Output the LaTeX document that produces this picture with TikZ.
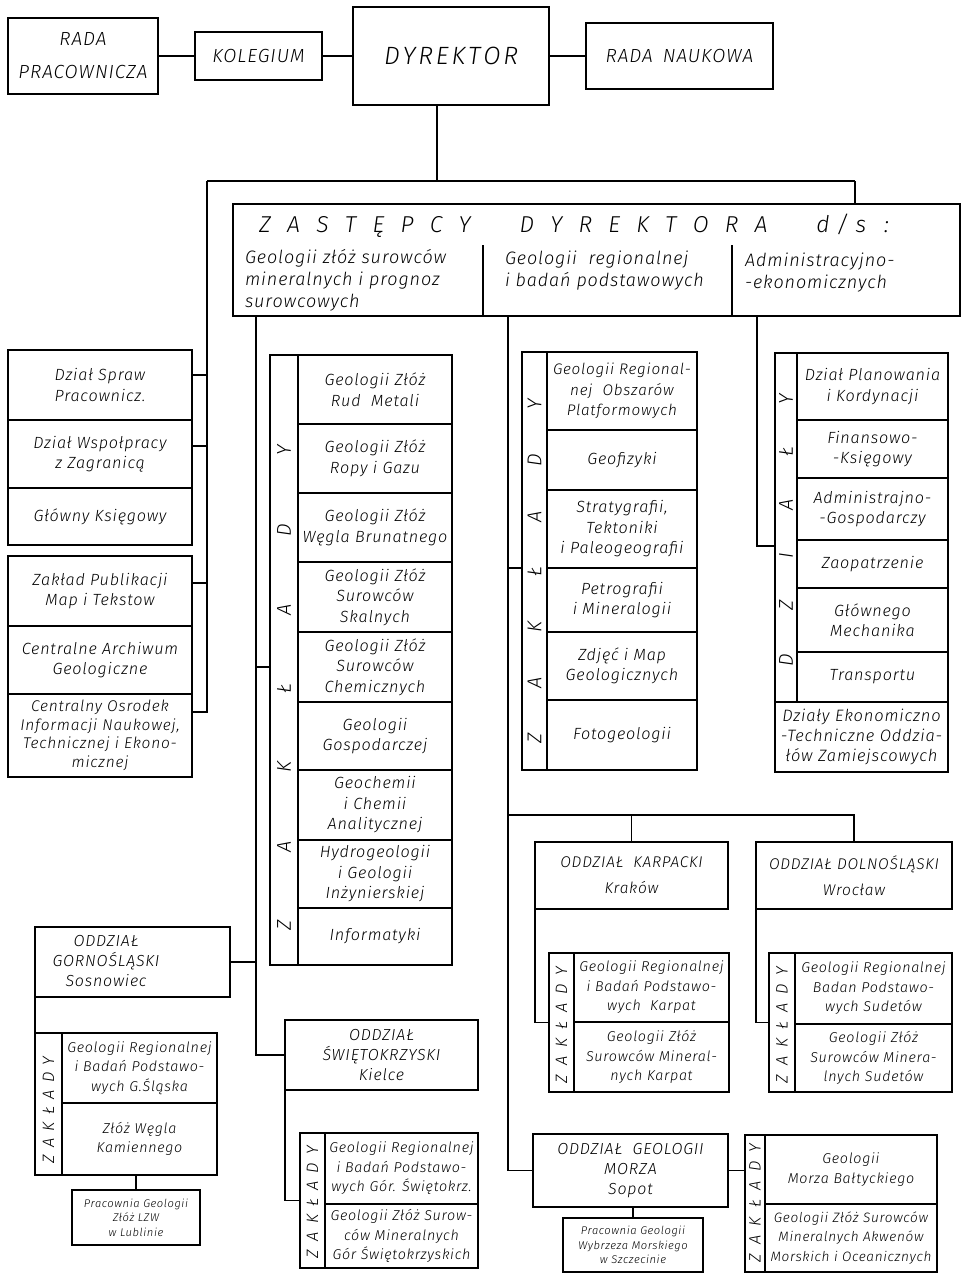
\documentclass[tikz,border=0pt]{standalone}
\usepackage{fontspec}
\setmainfont{Fira Sans Light Italic}[LetterSpace=5]
\usetikzlibrary{calc}
\newcommand\bodyf{\fontsize{16.2}{20.5}\selectfont}
\newcommand\zsf{\fontsize{18}{22}\selectfont}
\newcommand\smallf{\fontsize{14.3}{19.5}\selectfont}
\newcommand\tinyf{\fontsize{11.2}{14.5}\selectfont}
\newcommand\capf{\fontsize{19}{33}\selectfont}
\newcommand\oddf{\fontsize{16}{20}\selectfont}
\newcommand\dyrf{\fontsize{25}{25}\selectfont}
\newcommand\zasf{\fontsize{23}{23}\selectfont}
\newcommand\letf{\fontsize{20}{20}\selectfont}
\newcommand\letsf{\fontsize{16.5}{16.5}\selectfont}
\newcommand\mkbox[7][]{%
  \pgfmathsetmacro\bxw{#5-#3}%
  \pgfmathsetmacro\bxh{#6-#4}%
  \node[box,minimum width=\bxw pt,minimum height=\bxh pt,anchor=north west,#1] (#2) at (#3,#4) {#7};}
\begin{document}
\begin{tikzpicture}[x=1pt,y=-1pt,line width=1.1pt,
  box/.style={draw,inner sep=1pt,outer sep=0pt,align=center,font=\bodyf},
  lbl/.style={inner sep=0pt,outer sep=0pt,align=center,font=\bodyf},
  vlet/.style={inner sep=0pt,outer sep=0pt,rotate=90,font=\letf},
  vlets/.style={inner sep=0pt,outer sep=0pt,rotate=90,font=\letsf}]
\useasboundingbox (0,0) rectangle (968,1275);

% ---------- top row
\mkbox[font=\capf]{rp}{8}{18}{158}{94}{RADA\\PRACOWNICZA}
\mkbox[font=\capf]{kol}{195}{32}{322}{80}{KOLEGIUM}
\mkbox[font=\dyrf]{dyr}{353}{7}{549}{105}{\makebox[134pt]{D\hfill Y\hfill R\hfill E\hfill K\hfill T\hfill O\hfill R}}
\mkbox[font=\capf]{rn}{586}{23}{773}{89}{RADA\hspace{10pt}NAUKOWA}
\draw (rp) -- (kol);
\draw (kol) -- (dyr);
\draw (dyr) -- (rn);

\coordinate (tl) at (207,181);
\coordinate (tm) at (437,181);
\coordinate (tr) at (855,181);
\draw (dyr.south -| tm) -- (tm);
\draw (tl) -- (tr);

% ---------- deputies box
\mkbox{zas}{233}{204}{960}{316}{}
\draw (tr) -- (tr |- zas.north);
\node[lbl,font=\zasf] (zh) at (574,226) {\makebox[630pt]{Z\hfill A\hfill S\hfill T\hfill Ę\hfill P\hfill C\hfill Y\hfill\hfill\hfill D\hfill Y\hfill R\hfill E\hfill K\hfill T\hfill O\hfill R\hfill A\hfill\hfill\hfill d\hspace{7pt}/\hspace{7pt}s\hspace{18pt}:}};
\draw (483,245) -- (483,316);
\draw (732,245) -- (732,316);
\node[lbl,font=\zsf,anchor=west,align=left] (zs1) at (245,280) {Geologii złóż surowców\\mineralnych i prognoz\\surowcowych};
\node[lbl,font=\zsf,anchor=west,align=left] (zs2) at (505,271) {Geologii\ \ regionalnej\\i badań podstawowych};
\node[lbl,font=\zsf,anchor=west,align=left] (zs3) at (745,273) {Administracyjno-\\-ekonomicznych};
\coordinate (c1) at (256,316);
\coordinate (c2) at (508,316);
\coordinate (c3) at (757,316);

% ---------- left column
\mkbox{l1}{8}{350}{192}{420}{Dział Spraw\\Pracownicz.}
\mkbox{l2}{8}{420}{192}{488}{Dział Wspołpracy\\z Zagranicą}
\mkbox{l3}{8}{488}{192}{545}{Główny Księgowy}
\mkbox{l4}{8}{556}{192}{626}{Zakład Publikacji\\Map i Tekstow}
\mkbox{l5}{8}{626}{192}{694}{Centralne Archiwum\\Geologiczne}
\mkbox[font=\fontsize{15.5}{18.5}\selectfont]{l6}{8}{694}{192}{777}{Centralny Osrodek\\Informacji Naukowej,\\Technicznej i Ekono-\\micznej}
\coordinate (b1) at ($(l1.north east)+(0,25)$);
\coordinate (b2) at ($(l2.north east)+(0,26)$);
\coordinate (b4) at ($(l4.north east)+(0,27)$);
\coordinate (b6) at ($(l6.north east)+(0,18)$);
\draw (tl) |- (b6);
\draw (b1) -- (b1 -| tl);
\draw (b2) -- (b2 -| tl);
\draw (b4) -- (b4 -| tl);

% ---------- column 1 (Zaklady)
\mkbox{z1l}{270}{355}{298}{965}{}
\mkbox{z1a}{298}{355}{452}{424}{Geologii Złóż\\Rud\ \ Metali}
\mkbox{z1b}{298}{424}{452}{493}{Geologii Złóż\\Ropy i Gazu}
\mkbox{z1c}{298}{493}{452}{562}{Geologii Złóż\\Węgla Brunatnego}
\mkbox{z1d}{298}{562}{452}{632}{Geologii Złóż\\Surowców\\Skalnych}
\mkbox{z1e}{298}{632}{452}{702}{Geologii Złóż\\Surowców\\Chemicznych}
\mkbox{z1f}{298}{702}{452}{770}{Geologii\\Gospodarczej}
\mkbox{z1g}{298}{770}{452}{840}{Geochemii\\i Chemii\\Analitycznej}
\mkbox{z1h}{298}{840}{452}{908}{Hydrogeologii\\i Geologii\\Inżynierskiej}
\mkbox{z1i}{298}{908}{452}{965}{Informatyki}
\node[vlet] (z1t) at (284,688) {\makebox[485pt]{Z\hfill A\hfill K\hfill Ł\hfill A\hfill D\hfill Y}};

% ---------- column 2 (Zaklady)
\mkbox{z2l}{522}{352}{547}{770}{}
\mkbox[font=\fontsize{15.3}{20.5}\selectfont]{z2a}{547}{352}{697}{430}{Geologii Regional-\\nej\ \ Obszarów\\Platformowych}
\mkbox{z2b}{547}{430}{697}{490}{Geofizyki}
\mkbox{z2c}{547}{490}{697}{568}{Stratygrafii,\\Tektoniki\\i Paleogeografii}
\mkbox{z2d}{547}{568}{697}{632}{Petrografii\\i Mineralogii}
\mkbox{z2e}{547}{632}{697}{700}{Zdjęć i Map\\Geologicznych}
\mkbox{z2f}{547}{700}{697}{770}{Fotogeologii}
\node[vlet] (z2t) at (534.5,571) {\makebox[344pt]{Z\hfill A\hfill K\hfill Ł\hfill A\hfill D\hfill Y}};
\draw (c2 |- z2c.south) -- (z2l.west |- z2c.south);

% ---------- column 3 (Dzialy)
\mkbox{z3l}{775}{353}{797}{702}{}
\mkbox{z3a}{797}{353}{948}{420}{Dział Planowania\\i Kordynacji}
\mkbox{z3b}{797}{420}{948}{478}{Finansowo-\\-Księgowy}
\mkbox{z3c}{797}{478}{948}{540}{Administrajno-\\-Gospodarczy}
\mkbox{z3d}{797}{540}{948}{588}{Zaopatrzenie}
\mkbox{z3e}{797}{588}{948}{652}{Głównego\\Mechanika}
\mkbox{z3f}{797}{652}{948}{702}{Transportu}
\mkbox[font=\fontsize{16.5}{20}\selectfont]{z3g}{775}{702}{948}{772}{Działy Ekonomiczno\\-Techniczne Oddzia-\\łów Zamiejscowych}
\node[vlet] (z3t) at (786,530) {\makebox[272pt]{D\hfill Z\hfill I\hfill A\hfill Ł\hfill Y}};
\coordinate (b3) at ($(z3d.north -| z3l.west)+(0,6)$);
\draw (c3) |- (b3);

% ---------- Oddzial Gornoslaski
\mkbox{go}{35}{927}{230}{997}{}
\node[lbl,font=\oddf] (got) at (106,961) {ODDZIAŁ\\GORNOŚLĄSKI\\Sosnowiec};
\mkbox{gzl}{35}{1033}{62}{1175}{}
\mkbox[font=\smallf]{gza}{62}{1033}{217}{1103}{Geologii Regionalnej\\i Badań Podstawo-\\wych G.Śląska}
\mkbox[font=\smallf]{gzb}{62}{1103}{217}{1175}{Złóż Węgla\\Kamiennego}
\node[vlets] (gzt) at (48.5,1110) {\makebox[107pt]{Z\hfill A\hfill K\hfill Ł\hfill A\hfill D\hfill Y}};
\mkbox[font=\tinyf]{gp}{72}{1190}{200}{1245}{Pracownia Geologii\\Złóż LZW\\w Lublinie}
\draw (go.south west) -- (gzl.north west);
\draw (gp.north) -- (gp.north |- gzb.south);

% ---------- Oddzial Swietokrzyski
\mkbox[font=\oddf]{sw}{285}{1020}{478}{1090}{ODDZIAŁ\\ŚWIĘTOKRZYSKI\\Kielce}
\mkbox{szl}{300}{1133}{325}{1268}{}
\mkbox[font=\smallf]{sza}{325}{1133}{478}{1204}{Geologii Regionalnej\\i Badań Podstawo-\\wych Gór. Świętokrz.}
\mkbox[font=\smallf]{szb}{325}{1204}{478}{1268}{Geologii Złóż Surow-\\ców Mineralnych\\Gór Świętokrzyskich}
\node[vlets] (szt) at (312.5,1202) {\makebox[112pt]{Z\hfill A\hfill K\hfill Ł\hfill A\hfill D\hfill Y}};
\draw (sw.south west) |- (szl.west);

% column 1 trunk and branches
\draw (c1) |- (sw.west);
\draw (c1 |- z1e.west) -- (z1l.west |- z1e.west);
\draw (go.east) -- (go.east -| c1);

% ---------- Oddzial Karpacki / Dolnoslaski
\mkbox[font=\fontsize{15.5}{26}\selectfont]{ka}{535}{842}{728}{909}{ODDZIAŁ\ \ KARPACKI\\Kraków}
\mkbox[font=\fontsize{15.5}{26}\selectfont]{dl}{756}{842}{952}{909}{ODDZIAŁ DOLNOŚLĄSKI\\Wrocław}
\mkbox{kzl}{549}{953}{574}{1092}{}
\mkbox[font=\smallf]{kza}{574}{953}{729}{1022}{Geologii Regionalnej\\i Badań Podstawo-\\wych\ \ Karpat}
\mkbox[font=\smallf]{kzb}{574}{1022}{729}{1092}{Geologii Złóż\\Surowców Mineral-\\nych Karpat}
\node[vlets] (kzt) at (561.5,1025) {\makebox[116pt]{Z\hfill A\hfill K\hfill Ł\hfill A\hfill D\hfill Y}};
\mkbox{dzl}{769}{953}{795}{1092}{}
\mkbox[font=\smallf]{dza}{795}{953}{952}{1024}{Geologii Regionalnej\\Badan Podstawo-\\wych Sudetów}
\mkbox[font=\smallf]{dzb}{795}{1024}{952}{1092}{Geologii Złóż\\Surowców Minera-\\lnych Sudetów}
\node[vlets] (dzt) at (782,1025) {\makebox[116pt]{Z\hfill A\hfill K\hfill Ł\hfill A\hfill D\hfill Y}};
\coordinate (kb) at (508,815);
\draw (kb) -| (dl.north);
\draw (ka.north) -- (ka.north |- kb);
\draw (ka.south west) |- (kzl.west);
\draw (dl.south west) |- (dzl.west);

% ---------- Oddzial Geologii Morza
\mkbox[font=\oddf]{mo}{533}{1134}{728}{1207}{ODDZIAŁ\ \ GEOLOGII\\MORZA\\Sopot}
\mkbox{mzl}{745}{1135}{765}{1272}{}
\mkbox[font=\smallf]{mza}{765}{1135}{937}{1204}{Geologii\\Morza Bałtyckiego}
\mkbox[font=\fontsize{13.6}{19.5}\selectfont]{mzb}{765}{1204}{937}{1272}{Geologii Złóż Surowców\\Mineralnych Akwenów\\Morskich i Oceanicznych}
\node[vlets] (mzt) at (755,1203) {\makebox[119pt]{Z\hfill A\hfill K\hfill Ł\hfill A\hfill D\hfill Y}};
\mkbox[font=\tinyf]{mp}{563}{1218}{703}{1272}{Pracownia Geologii\\Wybrzeza Morskiego\\w Szczecinie}
\draw (mo.east) -- (mo.east -| mzl.west);
\draw (mp.north) -- (mp.north |- mo.south);

% column 2 trunk
\draw (c2) |- (mo.west);
\end{tikzpicture}
\end{document}
